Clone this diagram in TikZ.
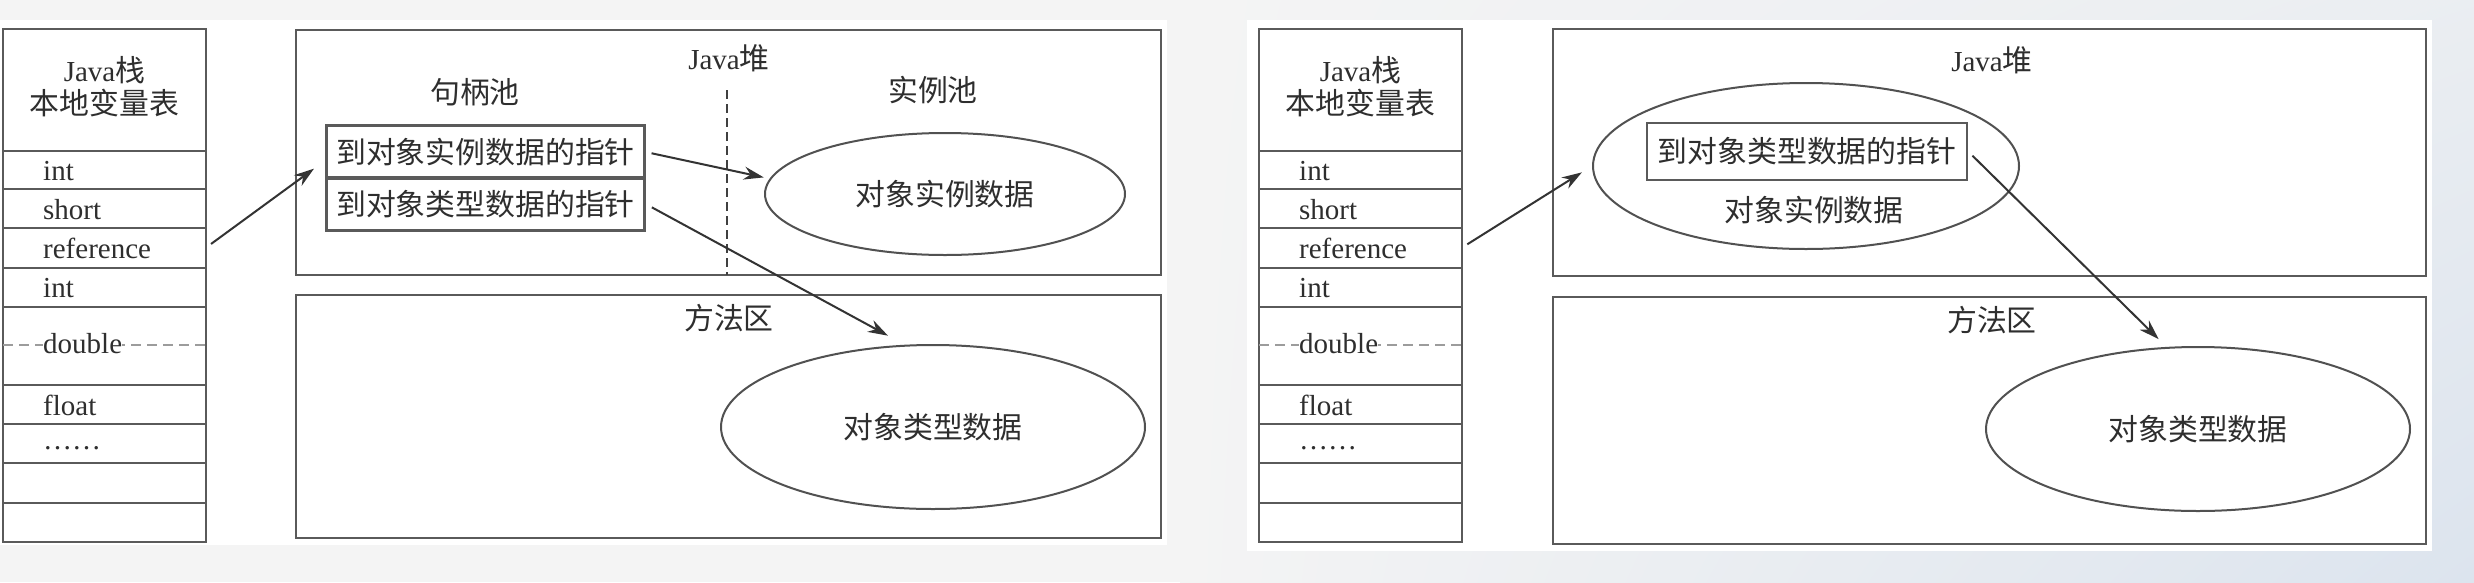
\documentclass[tikz,border=0pt]{standalone}
\usepackage{fontspec}
\setmainfont{Liberation Serif}
\newfontfamily\cjk[Scale=1.03]{Noto Sans CJK SC}
\usetikzlibrary{shapes.geometric,arrows.meta,shadings}
\definecolor{bggrey}{HTML}{F4F4F4}
\definecolor{bgblue}{HTML}{DCE4EE}
\definecolor{ln}{HTML}{5A5A5A}
\definecolor{tx}{HTML}{2E2E2E}
\begin{document}
\begin{tikzpicture}[x=1pt,y=-1pt,
  box/.style={draw=ln,line width=2.4pt},
  lbl/.style={text=tx,inner sep=0pt,font=\fontsize{29}{34}\selectfont},
  zh/.style={text=tx,inner sep=0pt,font=\fontsize{29}{34}\selectfont\cjk},
  ptr/.style={draw=ln,line width=2.4pt,inner sep=0pt,minimum width=318pt,minimum height=53pt,text=tx,font=\fontsize{29}{34}\selectfont\cjk},
  oval/.style={ellipse,draw=ln!90!black,line width=2pt,inner sep=0pt,text=tx,font=\fontsize{29}{34}\selectfont\cjk},
  arr/.style={draw=black!80,line width=2pt,-{Stealth[length=20pt,width=13pt]}},
  dsh/.style={draw=ln!60,line width=1.6pt,dash pattern=on 10pt off 6pt},
  dshv/.style={draw=black!75,line width=1.6pt,dash pattern=on 9pt off 5pt}
]
\useasboundingbox (0,0) rectangle (2474,582);
% background
\fill[bggrey] (0,0) rectangle (2474,582);
\shade[upper left=bggrey, lower left=bggrey, upper right=bggrey!60!bgblue, lower right=bgblue] (1180,0) rectangle (2474,582);
\fill[white] (0,20) rectangle (1167,545);
\fill[white] (1247,20) rectangle (2432,551);

% Java stacks
\foreach \ox/\s in {0/L,1256/R}{
  \draw[box] (3+\ox,29) rectangle (206+\ox,542);
  \foreach \yy in {151,189,228,268,307,385,424,463,503}
    \draw[box] (3+\ox,\yy) -- (206+\ox,\yy);
  \draw[dsh] (3+\ox,345) -- (206+\ox,345);
  \node[lbl,anchor=base] (jst\s) at (104.5+\ox,81) {Java{\cjk 栈}};
  \node[zh,anchor=base] (lvt\s) at (104.5+\ox,114) {本地变量表};
  \node[lbl,anchor=base west] (ia\s) at (43+\ox,180) {int};
  \node[lbl,anchor=base west] (sh\s) at (43+\ox,219) {short};
  \node[lbl,anchor=base west] (rf\s) at (43+\ox,258) {reference};
  \node[lbl,anchor=base west] (ib\s) at (43+\ox,297) {int};
  \node[lbl,anchor=base west,fill=white] (db\s) at (43+\ox,353) {double};
  \node[lbl,anchor=base west] (fl\s) at (43+\ox,415) {float};
  \node[lbl,anchor=base west] (dt\s) at (43+\ox,449) {……};
  \node[inner sep=0pt,minimum width=203pt,minimum height=39pt] (ref\s) at (104.5+\ox,247.5) {};
}

% ---------- left: handle pool ----------
\draw[box] (296,30) rectangle (1161,275);
\draw[box] (296,295) rectangle (1161,538);
\node[lbl] (heapL) at (729,58) {Java{\cjk 堆}};
\draw[dshv] (727,90) -- (727,275);
\node[zh] (hpool) at (475,92) {句柄池};
\node[zh] (ipool) at (933,90) {实例池};
\node[ptr] (p1L) at (485.5,152) {到对象实例数据的指针};
\node[ptr] (p2L) at (485.5,204) {到对象类型数据的指针};
\node[oval,minimum width=360pt,minimum height=122pt] (instL) at (945,194) {对象实例数据};
\node[zh] (methL) at (729,318) {方法区};
\node[oval,minimum width=424pt,minimum height=164pt] (typL) at (933,427) {对象类型数据};

\draw[arr,shorten <=6pt,shorten >=14pt] (refL.east) -- (p1L.183);
\draw[arr,shorten <=6pt,shorten >=6pt] (p1L.east) -- (instL.175);
\draw[arr,shorten <=7pt,shorten >=19pt] (p2L.east) -- (typL.109);

% ---------- right: direct pointer ----------
\draw[box] (1553,29) rectangle (2426,276);
\draw[box] (1553,297) rectangle (2426,544);
\node[lbl] (heapR) at (1992,60) {Java{\cjk 堆}};
\node[oval,minimum width=426pt,minimum height=166pt] (instR) at (1806,166) {};
\node[ptr,minimum width=320pt,minimum height=57pt] (pR) at (1807,151.5) {到对象类型数据的指针};
\node[zh] (instRt) at (1814,210) {对象实例数据};
\node[zh] (methR) at (1992,320) {方法区};
\node[oval,minimum width=424pt,minimum height=164pt] (typR) at (2198,429) {对象类型数据};

\draw[arr,shorten <=6pt,shorten >=12pt] (refR.east) -- (instR.west);
\draw[arr,shorten <=6pt,shorten >=11pt] (pR.east) -- (typR.111);
\end{tikzpicture}
\end{document}
